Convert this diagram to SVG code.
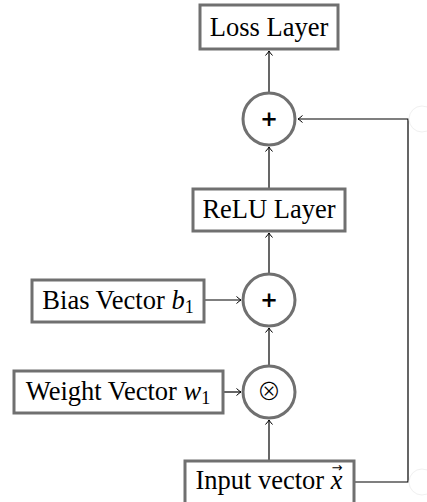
<svg xmlns="http://www.w3.org/2000/svg" width="427" height="502" viewBox="0 0 427 502">
<style>
.box{fill:#fff;stroke:#707070;stroke-width:3}
.op{fill:#fff;stroke:#707070;stroke-width:3}
.lbl{font-family:"Liberation Serif","Times New Roman",serif;font-size:26.5px;fill:#000;text-anchor:middle}
.it{font-style:italic}
.sub{font-size:18px}
.plus{font-family:"DejaVu Sans","Liberation Sans",sans-serif;font-weight:bold;font-size:21px;text-anchor:middle;fill:#000}
.otimes{font-family:"Noto Sans CJK JP","DejaVu Sans",sans-serif;font-weight:300;font-size:24px;text-anchor:middle;fill:#000}
.vec{font-family:"DejaVu Sans",sans-serif;font-size:13px;font-style:normal}
.edge{fill:none;stroke:#000;stroke-width:1.2}
.ghost{fill:none;stroke:#f0f0f0;stroke-width:1}
</style>
<defs>
<marker id="arr" markerUnits="userSpaceOnUse" markerWidth="12" markerHeight="12" viewBox="-6 -6 12 12" refX="0" refY="0" orient="auto">
<path d="M-4.5,-3.5 Q-1.5,-0.8 0,0 Q-1.5,0.8 -4.5,3.5" fill="none" stroke="#000" stroke-width="1"/>
</marker>
</defs>
<g id="connectors">
<path class="edge" d="M269,461 V420" marker-end="url(#arr)"/>
<path class="edge" d="M223,392 H241" marker-end="url(#arr)"/>
<path class="edge" d="M269,365 V328" marker-end="url(#arr)"/>
<path class="edge" d="M204,300 H241" marker-end="url(#arr)"/>
<path class="edge" d="M269,273 V233" marker-end="url(#arr)"/>
<path class="edge" d="M269,189 V147" marker-end="url(#arr)"/>
<path class="edge" d="M269,92 V51" marker-end="url(#arr)"/>
<path class="edge" d="M355,482 H408 V119 H298" marker-end="url(#arr)"/>
</g>
<g id="ghost1"><circle class="ghost" cx="422" cy="119" r="13"/></g>
<g id="ghost2"><circle class="ghost" cx="422" cy="482" r="13"/></g>
<g id="loss">
<rect class="box" x="200" y="5" width="138" height="44"/>
<text class="lbl" x="269" y="36">Loss Layer</text>
</g>
<g id="plus1">
<circle class="op" cx="269" cy="119" r="26"/>
<text class="plus" x="269" y="126">+</text>
</g>
<g id="relu">
<rect class="box" x="193" y="189" width="152" height="42"/>
<text class="lbl" x="269" y="218">ReLU Layer</text>
</g>
<g id="plus2">
<circle class="op" cx="269" cy="300" r="26"/>
<text class="plus" x="269" y="307">+</text>
</g>
<g id="bias">
<rect class="box" x="32" y="280" width="172" height="42"/>
<text class="lbl" x="118" y="309">Bias Vector <tspan class="it">b</tspan><tspan class="sub" dy="4">1</tspan></text>
</g>
<g id="otimes">
<circle class="op" cx="269" cy="392" r="26"/>
<text class="otimes" x="269" y="400">⊗</text>
</g>
<g id="weight">
<rect class="box" x="14" y="371" width="209" height="42"/>
<text class="lbl" x="118" y="400">Weight Vector <tspan class="it">w</tspan><tspan class="sub" dy="4">1</tspan></text>
</g>
<g id="input">
<rect class="box" x="185" y="461" width="169" height="44"/>
<text class="lbl" x="269" y="489">Input vector <tspan class="it">x</tspan><tspan class="vec" x="337" y="472">→</tspan></text>
</g>
</svg>
